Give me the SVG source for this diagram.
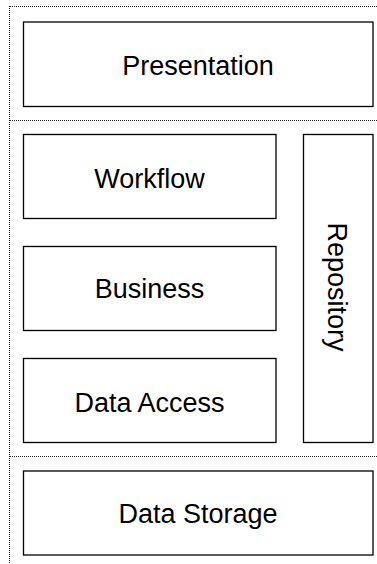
<svg xmlns="http://www.w3.org/2000/svg" width="377" height="564" viewBox="0 0 377 564">
<style>
.box{fill:#fff;stroke:#000;stroke-width:1.3}
.sep{fill:none;stroke:#222;stroke-width:1;stroke-dasharray:1 1}
.lbl{font-family:"Liberation Sans",Arial,sans-serif;font-size:27px;fill:#000;text-anchor:middle}
</style>
<rect width="377" height="564" fill="#fff"/>
<g id="separators">
<line class="sep" x1="9.5" y1="6" x2="9.5" y2="564"/>
<line class="sep" x1="10" y1="6.5" x2="377" y2="6.5"/>
<line class="sep" x1="10" y1="120.5" x2="377" y2="120.5"/>
<line class="sep" x1="10" y1="456.5" x2="377" y2="456.5"/>
</g>
<g id="presentation"><rect class="box" x="23.5" y="22" width="349.5" height="84.5"/><text class="lbl" x="198" y="75">Presentation</text></g>
<g id="workflow"><rect class="box" x="23.5" y="134.5" width="252.5" height="84"/><text class="lbl" x="149.5" y="188">Workflow</text></g>
<g id="business"><rect class="box" x="23.5" y="246.5" width="252.5" height="84"/><text class="lbl" x="149.5" y="298">Business</text></g>
<g id="data-access"><rect class="box" x="23.5" y="358.5" width="252.5" height="84"/><text class="lbl" x="149.5" y="412">Data Access</text></g>
<g id="repository"><rect class="box" x="303.5" y="134.5" width="69.5" height="308"/><text class="lbl" transform="translate(328,287) rotate(90)">Repository</text></g>
<g id="data-storage"><rect class="box" x="23.5" y="471" width="349.5" height="84"/><text class="lbl" x="198" y="523">Data Storage</text></g>
</svg>
